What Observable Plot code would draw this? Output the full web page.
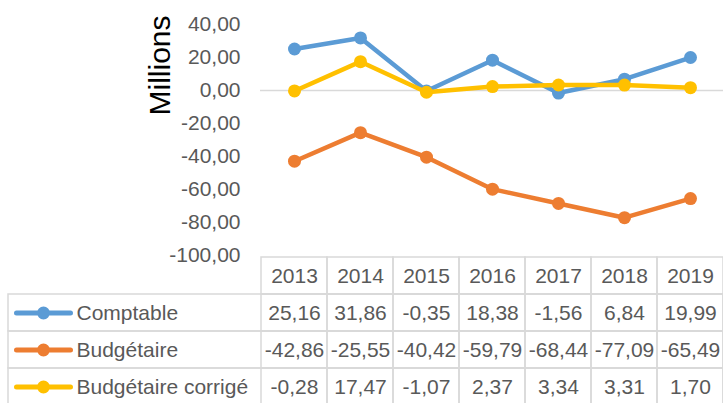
<!DOCTYPE html>
<html><head><meta charset="utf-8">
<script src="https://cdn.jsdelivr.net/npm/d3@7"></script>
<script src="https://cdn.jsdelivr.net/npm/@observablehq/plot@0.6"></script>
<style>
body{margin:0;background:#fff}
#wrap{position:relative;width:723px;height:403px;overflow:hidden;background:#fff}
</style>
</head><body><div id="wrap"></div>
<script>
const years = [2013, 2014, 2015, 2016, 2017, 2018, 2019];
const seriesNames = ["Comptable", "Budgétaire", "Budgétaire corrigé"];
const comptable = [25.16, 31.86, -0.35, 18.38, -1.56, 6.84, 19.99];
const budgetaire = [-42.86, -25.55, -40.42, -59.79, -68.44, -77.09, -65.49];
const budgetaireCorrige = [-0.28, 17.47, -1.07, 2.37, 3.34, 3.31, 1.70];
const seriesColors = ["#5B9BD5", "#ED7D31", "#FFC000"];
const yTicks = [-100, -80, -60, -40, -20, 0, 20, 40];
const yLabel = "Millions";

const locale = d3.formatLocale({decimal: ",", thousands: " ", grouping: [3], currency: ["", " €"], minus: "-"});
const fmt = locale.format(".2f");
const values = [comptable, budgetaire, budgetaireCorrige];
const series = seriesNames.map((name, i) => ({
  name, color: seriesColors[i],
  points: years.map((year, j) => ({year, value: values[i][j], name}))
}));

const FONT = "'Liberation Sans', Arial, sans-serif";
const wrap = document.getElementById("wrap");

const chartMarks = [
  Plot.ruleY([0], {stroke: "#d9d9d9", strokeWidth: 1.5}),
  Plot.axisY({ticks: yTicks, tickSize: 0, tickPadding: 20, tickFormat: fmt, label: null, fontSize: 21}),
  Plot.text([yLabel], {text: d => d, frameAnchor: "top-left", textAnchor: "middle", rotate: -90, dx: -112, dy: 41, fontSize: 30, fill: "#000"})
];
for (const s of series) {
  chartMarks.push(Plot.line(s.points, {x: "year", y: "value", stroke: s.color, strokeWidth: 4.5, strokeLinejoin: "round"}));
  chartMarks.push(Plot.dot(s.points, {x: "year", y: "value", r: 6.5, fill: s.color, stroke: null}));
}
const chart = Plot.plot({
  width: 723, height: 403,
  marginLeft: 260, marginRight: 0, marginTop: 24, marginBottom: 148,
  x: {type: "point", domain: years, padding: 0.5, axis: null},
  y: {domain: [-100, 40]},
  style: {fontFamily: FONT, background: "transparent", color: "#595959", overflow: "visible"},
  marks: chartMarks
});
chart.style.position = "absolute"; chart.style.left = "0px"; chart.style.top = "0px";
wrap.appendChild(chart);

// data table
const rowKeys = ["header", ...seriesNames];
const cells = [];
years.forEach(y => cells.push({row: "header", year: y, label: String(y)}));
series.forEach(s => s.points.forEach(p => cells.push({row: s.name, year: p.year, label: fmt(p.value)})));

const legendSymbol = {
  draw(ctx) {
    ctx.moveTo(-27, -2.5);
    ctx.lineTo(27, -2.5);
    ctx.arc(27, 0, 2.5, -Math.PI / 2, Math.PI / 2);
    ctx.lineTo(-27, 2.5);
    ctx.arc(-27, 0, 2.5, Math.PI / 2, 3 * Math.PI / 2);
    ctx.closePath();
    ctx.moveTo(6.5, 0);
    ctx.arc(0, 0, 6.5, 0, 2 * Math.PI);
    ctx.closePath();
  }
};

const tableMarks = [
  Plot.cell(cells, {x: "year", y: "row", fill: "none", stroke: "#d9d9d9", strokeWidth: 1.5, inset: 0}),
  Plot.cell(seriesNames, {y: d => d, fill: "none", stroke: "#d9d9d9", strokeWidth: 1.5, insetLeft: 8}),
  Plot.text(cells, {x: "year", y: "row", text: "label", fontSize: 21, fill: "#595959"})
];
series.forEach(s => {
  tableMarks.push(Plot.dot([s.name], {y: d => d, frameAnchor: "left", dx: 43, symbol: legendSymbol, r: 6.5, fill: s.color, stroke: null}));
  tableMarks.push(Plot.text([s.name], {y: d => d, text: d => d, frameAnchor: "left", textAnchor: "start", dx: 76, fontSize: 21, fill: "#595959"}));
});
const table = Plot.plot({
  width: 723, height: 148,
  marginLeft: 0, marginRight: 0, marginTop: 0, marginBottom: 0,
  x: {type: "band", domain: years, range: [260, 723], padding: 0, axis: null},
  y: {type: "band", domain: rowKeys, range: [0, 151], padding: 0, axis: null},
  style: {fontFamily: FONT, background: "transparent", color: "#595959"},
  marks: tableMarks
});
table.style.position = "absolute"; table.style.left = "0px"; table.style.top = "255px";
wrap.appendChild(table);
</script>
</body></html>
